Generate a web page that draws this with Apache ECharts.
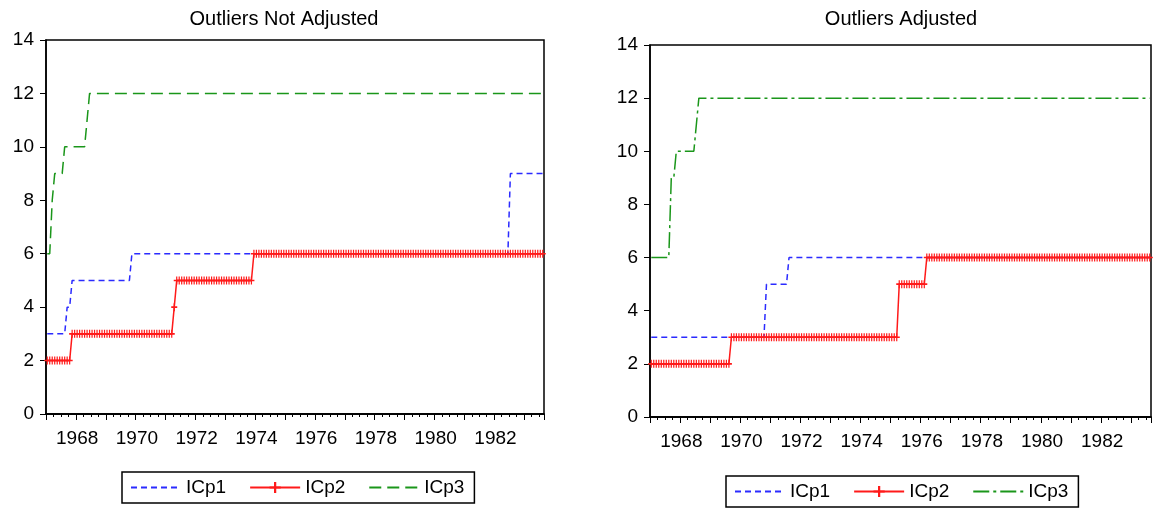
<!DOCTYPE html>
<html>
<head>
<meta charset="utf-8">
<script src="https://cdn.jsdelivr.net/npm/echarts@6/dist/echarts.min.js"></script>
<style>
html,body{margin:0;padding:0;background:#fff;}
#chart{width:1159px;height:511px;}
</style>
</head>
<body>
<div id="chart"></div>
<script>
// ---- Data (monthly observations, 1967:01 - 1983:08) ----
const START_YEAR = 1967, END_YEAR = 1983, END_MONTH = 8;
const months = [];
for (let y = START_YEAR; y <= END_YEAR; y++) {
  for (let m = 1; m <= 12; m++) {
    if (y === END_YEAR && m > END_MONTH) break;
    months.push(y + '-' + (m < 10 ? '0' + m : '' + m));
  }
}
const yTicks = [0, 2, 4, 6, 8, 10, 12, 14];
const titles = ['Outliers Not Adjusted', 'Outliers Adjusted'];
const seriesNames = ['ICp1', 'ICp2', 'ICp3'];

// Outliers Not Adjusted
const notAdj_ICp1 = [
3,3,3,3,3,3,3,3,4,4,
5,5,5,5,5,5,5,5,5,5,
5,5,5,5,5,5,5,5,5,5,
5,5,5,5,6,6,6,6,6,6,
6,6,6,6,6,6,6,6,6,6,
6,6,6,6,6,6,6,6,6,6,
6,6,6,6,6,6,6,6,6,6,
6,6,6,6,6,6,6,6,6,6,
6,6,6,6,6,6,6,6,6,6,
6,6,6,6,6,6,6,6,6,6,
6,6,6,6,6,6,6,6,6,6,
6,6,6,6,6,6,6,6,6,6,
6,6,6,6,6,6,6,6,6,6,
6,6,6,6,6,6,6,6,6,6,
6,6,6,6,6,6,6,6,6,6,
6,6,6,6,6,6,6,6,6,6,
6,6,6,6,6,6,6,6,6,6,
6,6,6,6,6,6,6,6,6,6,
6,6,6,6,6,6,9,9,9,9,
9,9,9,9,9,9,9,9,9,9
];
const notAdj_ICp2 = [
2,2,2,2,2,2,2,2,2,2,
3,3,3,3,3,3,3,3,3,3,
3,3,3,3,3,3,3,3,3,3,
3,3,3,3,3,3,3,3,3,3,
3,3,3,3,3,3,3,3,3,3,
3,4,5,5,5,5,5,5,5,5,
5,5,5,5,5,5,5,5,5,5,
5,5,5,5,5,5,5,5,5,5,
5,5,5,6,6,6,6,6,6,6,
6,6,6,6,6,6,6,6,6,6,
6,6,6,6,6,6,6,6,6,6,
6,6,6,6,6,6,6,6,6,6,
6,6,6,6,6,6,6,6,6,6,
6,6,6,6,6,6,6,6,6,6,
6,6,6,6,6,6,6,6,6,6,
6,6,6,6,6,6,6,6,6,6,
6,6,6,6,6,6,6,6,6,6,
6,6,6,6,6,6,6,6,6,6,
6,6,6,6,6,6,6,6,6,6,
6,6,6,6,6,6,6,6,6,6
];
const notAdj_ICp3 = [
6,6,8,9,9,9,9,10,10,10,
10,10,10,10,10,10,11,12,12,12,
12,12,12,12,12,12,12,12,12,12,
12,12,12,12,12,12,12,12,12,12,
12,12,12,12,12,12,12,12,12,12,
12,12,12,12,12,12,12,12,12,12,
12,12,12,12,12,12,12,12,12,12,
12,12,12,12,12,12,12,12,12,12,
12,12,12,12,12,12,12,12,12,12,
12,12,12,12,12,12,12,12,12,12,
12,12,12,12,12,12,12,12,12,12,
12,12,12,12,12,12,12,12,12,12,
12,12,12,12,12,12,12,12,12,12,
12,12,12,12,12,12,12,12,12,12,
12,12,12,12,12,12,12,12,12,12,
12,12,12,12,12,12,12,12,12,12,
12,12,12,12,12,12,12,12,12,12,
12,12,12,12,12,12,12,12,12,12,
12,12,12,12,12,12,12,12,12,12,
12,12,12,12,12,12,12,12,12,12
];

// Outliers Adjusted
const adj_ICp1 = [
3,3,3,3,3,3,3,3,3,3,
3,3,3,3,3,3,3,3,3,3,
3,3,3,3,3,3,3,3,3,3,
3,3,3,3,3,3,3,3,3,3,
3,3,3,3,3,3,5,5,5,5,
5,5,5,5,5,6,6,6,6,6,
6,6,6,6,6,6,6,6,6,6,
6,6,6,6,6,6,6,6,6,6,
6,6,6,6,6,6,6,6,6,6,
6,6,6,6,6,6,6,6,6,6,
6,6,6,6,6,6,6,6,6,6,
6,6,6,6,6,6,6,6,6,6,
6,6,6,6,6,6,6,6,6,6,
6,6,6,6,6,6,6,6,6,6,
6,6,6,6,6,6,6,6,6,6,
6,6,6,6,6,6,6,6,6,6,
6,6,6,6,6,6,6,6,6,6,
6,6,6,6,6,6,6,6,6,6,
6,6,6,6,6,6,6,6,6,6,
6,6,6,6,6,6,6,6,6,6
];
const adj_ICp2 = [
2,2,2,2,2,2,2,2,2,2,
2,2,2,2,2,2,2,2,2,2,
2,2,2,2,2,2,2,2,2,2,
2,2,3,3,3,3,3,3,3,3,
3,3,3,3,3,3,3,3,3,3,
3,3,3,3,3,3,3,3,3,3,
3,3,3,3,3,3,3,3,3,3,
3,3,3,3,3,3,3,3,3,3,
3,3,3,3,3,3,3,3,3,3,
3,3,3,3,3,3,3,3,3,5,
5,5,5,5,5,5,5,5,5,5,
6,6,6,6,6,6,6,6,6,6,
6,6,6,6,6,6,6,6,6,6,
6,6,6,6,6,6,6,6,6,6,
6,6,6,6,6,6,6,6,6,6,
6,6,6,6,6,6,6,6,6,6,
6,6,6,6,6,6,6,6,6,6,
6,6,6,6,6,6,6,6,6,6,
6,6,6,6,6,6,6,6,6,6,
6,6,6,6,6,6,6,6,6,6
];
const adj_ICp3 = [
6,6,6,6,6,6,6,6,9,9,
10,10,10,10,10,10,10,10,11,12,
12,12,12,12,12,12,12,12,12,12,
12,12,12,12,12,12,12,12,12,12,
12,12,12,12,12,12,12,12,12,12,
12,12,12,12,12,12,12,12,12,12,
12,12,12,12,12,12,12,12,12,12,
12,12,12,12,12,12,12,12,12,12,
12,12,12,12,12,12,12,12,12,12,
12,12,12,12,12,12,12,12,12,12,
12,12,12,12,12,12,12,12,12,12,
12,12,12,12,12,12,12,12,12,12,
12,12,12,12,12,12,12,12,12,12,
12,12,12,12,12,12,12,12,12,12,
12,12,12,12,12,12,12,12,12,12,
12,12,12,12,12,12,12,12,12,12,
12,12,12,12,12,12,12,12,12,12,
12,12,12,12,12,12,12,12,12,12,
12,12,12,12,12,12,12,12,12,12,
12,12,12,12,12,12,12,12,12,12
];

// ---- Styling ----
const FONT = "'Liberation Sans', Arial, sans-serif";
const BLUE = '#2b2bff', RED = '#ff1a1a', GREEN = '#1a961a';
const PLUS = 'path://M2,0H3V2H5V3H3V5H2V3H0V2H2Z';

function monthOf(v) { return parseInt(v.slice(5), 10); }
function yearOf(v) { return parseInt(v.slice(0, 4), 10); }

function xAxesFor(gi) {
  const common = {
    type: 'category', gridIndex: gi, data: months, boundaryGap: true, position: 'bottom', offset: 0,
    axisLine: { show: true, lineStyle: { color: '#000', width: 1.5 } },
    splitLine: { show: false }
  };
  return [
    Object.assign({}, common, {
      axisTick: { show: true, length: 6, lineStyle: { color: '#000', width: 1 },
        interval: (i, v) => monthOf(v) === 1 },
      axisLabel: { show: true, fontSize: 19, color: '#000', fontFamily: FONT, margin: 15,
        interval: (i, v) => monthOf(v) === 1 && yearOf(v) % 2 === 0,
        formatter: v => v.slice(0, 4) }
    }),
    Object.assign({}, common, {
      axisTick: { show: true, length: 3, lineStyle: { color: '#000', width: 1 },
        interval: (i, v) => monthOf(v) === 4 || monthOf(v) === 7 || monthOf(v) === 10 },
      axisLabel: { show: false }
    })
  ];
}
function yAxisFor(gi) {
  return {
    type: 'value', gridIndex: gi, min: yTicks[0], max: yTicks[yTicks.length - 1], interval: 2,
    axisLine: { show: true, lineStyle: { color: '#000', width: 1.5 } },
    axisTick: { show: true, length: 6, lineStyle: { color: '#000', width: 1 } },
    axisLabel: { fontSize: 19, color: '#000', fontFamily: FONT, margin: 12 },
    splitLine: { show: false }
  };
}
function makeSeries(gi, suffix, d1, d2, d3, dash3) {
  return [
    { name: 'ICp1' + suffix, type: 'line', xAxisIndex: gi * 2, yAxisIndex: gi, data: d1,
      symbol: 'none', lineStyle: { color: BLUE, width: 1.5, type: [6, 4] }, itemStyle: { color: BLUE },
      animation: false },
    { name: 'ICp2' + suffix, type: 'line', xAxisIndex: gi * 2, yAxisIndex: gi, data: d2,
      symbol: PLUS, symbolSize: [6, 8], showSymbol: true, showAllSymbol: true,
      lineStyle: { color: RED, width: 1.5 }, itemStyle: { color: RED }, animation: false },
    { name: 'ICp3' + suffix, type: 'line', xAxisIndex: gi * 2, yAxisIndex: gi, data: d3,
      symbol: 'none', lineStyle: { color: GREEN, width: 1.5, type: dash3 }, itemStyle: { color: GREEN },
      animation: false }
  ];
}
function legendFor(left, top, suffix) {
  return {
    left: left, top: top, orient: 'horizontal',
    data: seriesNames.map(n => (n === 'ICp2'
      ? { name: n + suffix }
      : { name: n + suffix, itemStyle: { opacity: 0 } })),
    formatter: n => n.trim(),
    itemWidth: 50, itemHeight: 14, itemGap: 23,
    textStyle: { fontSize: 19, color: '#000', fontFamily: FONT },
    borderColor: '#000', borderWidth: 1.5, borderRadius: 0, padding: [6, 10, 6, 8],
    selectedMode: false
  };
}

const chart = echarts.init(document.getElementById('chart'), null, { renderer: 'canvas' });
chart.setOption({
  backgroundColor: '#fff',
  animation: false,
  title: [
    { text: titles[0], left: 279, top: 4, textAlign: 'center',
      textStyle: { fontSize: 20, fontWeight: 'normal', color: '#000', fontFamily: FONT } },
    { text: titles[1], left: 896, top: 4, textAlign: 'center',
      textStyle: { fontSize: 20, fontWeight: 'normal', color: '#000', fontFamily: FONT } }
  ],
  grid: [
    { left: 46, right: 1159 - 544, top: 40, bottom: 511 - 414, show: true, borderColor: '#000', borderWidth: 1.5 },
    { left: 650, right: 1159 - 1151, top: 45, bottom: 511 - 417, show: true, borderColor: '#000', borderWidth: 1.5 }
  ],
  xAxis: xAxesFor(0).concat(xAxesFor(1)),
  yAxis: [yAxisFor(0), yAxisFor(1)],
  legend: [legendFor(122, 472, ''), legendFor(726, 476, ' ')],
  series: makeSeries(0, '', notAdj_ICp1, notAdj_ICp2, notAdj_ICp3, [12, 6])
    .concat(makeSeries(1, ' ', adj_ICp1, adj_ICp2, adj_ICp3, [16, 4, 3, 4]))
});
</script>
</body>
</html>
